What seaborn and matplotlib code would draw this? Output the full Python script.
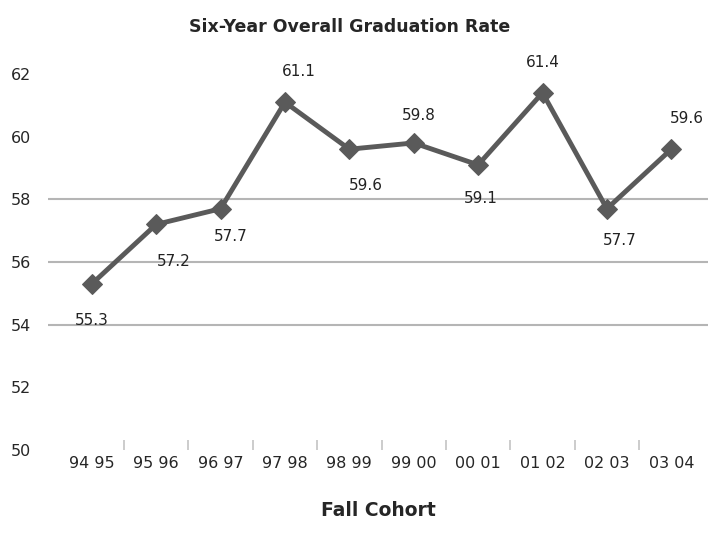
import matplotlib
matplotlib.use("Agg")
import matplotlib.pyplot as plt
import seaborn as sns
import pandas as pd

cohorts = ["94 95", "95 96", "96 97", "97 98", "98 99", "99 00", "00 01", "01 02", "02 03", "03 04"]
rates = [55.3, 57.2, 57.7, 61.1, 59.6, 59.8, 59.1, 61.4, 57.7, 59.6]
# label offsets in points (dx, dy)
label_offsets = [(0, -26), (13, -27), (7, -20), (10, 22), (12, -26), (4, 20), (2, -24), (0, 22), (9, -23), (11, 22)]

df = pd.DataFrame({"idx": range(len(cohorts)), "rate": rates})

sns.set_style("white")
plt.rcParams["font.family"] = ["DejaVu Sans"]

fig = plt.figure(figsize=(7.13, 5.37), dpi=100)
ax = fig.add_axes([48 / 713, 87 / 537, 660 / 713, 376 / 537])

sns.lineplot(data=df, x="idx", y="rate", ax=ax, color="#5a5a5a", linewidth=3.5,
             marker="D", markersize=10, markeredgecolor="#5a5a5a")

for i, (v, off) in enumerate(zip(rates, label_offsets)):
    ax.annotate(f"{v:.1f}", (i, v), xytext=off, textcoords="offset points",
                ha="center", va="center", fontsize=11, color="#222222")

ax.set_ylim(50, 62)
ax.set_yticks([50, 52, 54, 56, 58, 60, 62])
ax.set_xlim(-0.68, 9.57)
ax.set_xticks(range(len(cohorts)))
ax.set_xticklabels(cohorts, fontsize=11.5)
ax.set_xticks([i + 0.5 for i in range(len(cohorts) - 1)], minor=True)
ax.tick_params(axis="x", which="major", length=0, pad=4)
ax.tick_params(axis="x", which="minor", bottom=True, length=7, width=1.2,
               color="#c4c4c4", direction="in")
ax.tick_params(axis="y", length=0, labelsize=11.5, pad=12)

for g in [54, 56, 58]:
    ax.axhline(g, color="#b5b5b5", linewidth=1.5, zorder=0)

for s in ax.spines.values():
    s.set_visible(False)

ax.set_xlabel("Fall Cohort", fontsize=13.5, fontweight="bold", labelpad=22)
ax.set_ylabel("")
fig.text(350 / 713, 1 - 27 / 537, "Six-Year Overall Graduation Rate",
         ha="center", va="center", fontsize=12.5, fontweight="bold")

fig.savefig("out.png", dpi=100)
